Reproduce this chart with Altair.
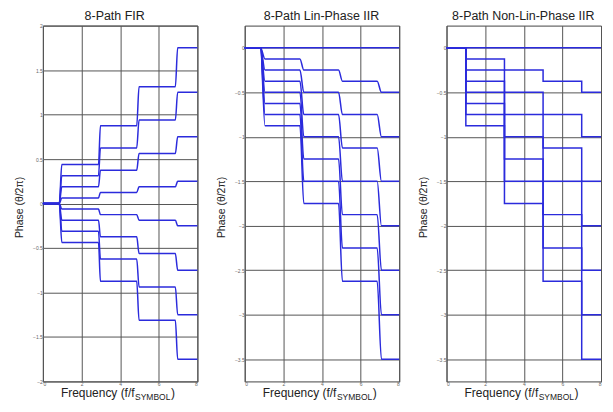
import altair as alt
import pandas as pd

# ---- data ----
x_max = 8
# FIR: smooth transitions just before the odd integers
fir_step_start = [0.85, 2.88, 4.86, 6.86]
fir_step_end = [0.98, 2.98, 4.98, 6.98]
fir_levels = [
    [0, 0.4375, 0.875, 1.3125, 1.75],
    [0, 0.3125, 0.625, 0.9375, 1.25],
    [0, 0.1875, 0.375, 0.5625, 0.75],
    [0, 0.0625, 0.125, 0.1875, 0.25],
    [0, -0.0625, -0.125, -0.1875, -0.25],
    [0, -0.1875, -0.375, -0.5625, -0.75],
    [0, -0.3125, -0.625, -0.9375, -1.25],
    [0, -0.4375, -0.875, -1.3125, -1.75],
]
# IIR (both versions share the levels)
iir_levels = [
    [0, 0, 0, 0, 0],
    [0, -0.125, -0.25, -0.375, -0.5],
    [0, -0.25, -0.5, -0.75, -1.0],
    [0, -0.375, -0.75, -1.125, -1.5],
    [0, -0.5, -1.0, -1.5, -2.0],
    [0, -0.625, -1.25, -1.875, -2.5],
    [0, -0.75, -1.5, -2.25, -3.0],
    [0, -0.875, -1.75, -2.625, -3.5],
]
lin_step_start = [0.82, 2.86, 4.86, 6.86]
lin_step_end = [1.05, 3.06, 5.06, 7.08]
nonlin_step_start = [1.0, 3.0, 5.0, 7.0]
nonlin_step_end = [1.0, 3.0, 5.0, 7.0]

x_ticks = [0, 2, 4, 6, 8]
fir_y_ticks = [-2, -1.5, -1, -0.5, 0, 0.5, 1, 1.5, 2]
iir_y_ticks = [-3.5, -3, -2.5, -2, -1.5, -1, -0.5, 0]
titles = ["8-Path FIR", "8-Path Lin-Phase IIR", "8-Path Non-Lin-Phase IIR"]
title_centers = [72, 77, 77]

LINE = "#2b2bdc"
FONT = "Liberation Sans"
H = 357
W = 155


def build(levels, starts, ends):
    rows = []
    for p, lv in enumerate(levels):
        pts = [(0, lv[0])]
        for i in range(4):
            pts.append((starts[i], lv[i]))
            pts.append((ends[i], lv[i + 1]))
        pts.append((x_max, lv[4]))
        for i, (x, y) in enumerate(pts):
            rows.append({"path": p, "i": i, "x": x, "y": y})
    return pd.DataFrame(rows)


def label(text, x, y, size, align="left"):
    return alt.Chart(pd.DataFrame({"t": [text]})).mark_text(
        align=align, baseline="alphabetic", fontSize=size, font=FONT, color="#222"
    ).encode(text="t:N", x=alt.value(x), y=alt.value(y))


def panel(df, title, tx, ydom, yticks, interp):
    lines = alt.Chart(df).mark_line(color=LINE, strokeWidth=1.5, interpolate=interp).encode(
        x=alt.X("x:Q", scale=alt.Scale(domain=[0, 8], nice=False),
                axis=alt.Axis(values=x_ticks, title=None, format="~g")),
        y=alt.Y("y:Q", scale=alt.Scale(domain=ydom, nice=False, zero=False),
                axis=alt.Axis(values=yticks, title="Phase (θ/2π)", titleX=-23, titleY=182,
                              titleBaseline="middle", titleAngle=270, format="~g")),
        detail="path:N",
        order="i:Q",
    )
    return alt.layer(
        lines,
        label(title, tx, -6, 12.5, "center"),
        label("Frequency (f/f", 92, H + 15.5, 12, "right"),
        label("SYMBOL", 92.5, H + 19, 8.5),
        label(")", 128.5, H + 15.5, 12),
    ).properties(width=W, height=H)


p1 = panel(build(fir_levels, fir_step_start, fir_step_end), titles[0], title_centers[0],
           [-2, 2], fir_y_ticks, "monotone")
p2 = panel(build(iir_levels, lin_step_start, lin_step_end), titles[1], title_centers[1],
           [-3.75, 0.25], iir_y_ticks, "monotone")
p3 = panel(build(iir_levels, nonlin_step_start, nonlin_step_end), titles[2], title_centers[2],
           [-3.75, 0.25], iir_y_ticks, "linear")

chart = alt.hconcat(p1, p2, p3, spacing=47.5, bounds="flush").properties(
    padding={"left": 6, "top": 0, "right": 0, "bottom": 0},
    background="white",
).configure_view(
    stroke="#444", strokeWidth=1
).configure_axis(
    domain=False, grid=True, gridColor="#555", gridWidth=1, gridOpacity=1,
    tickSize=0.5, tickColor="#888", labelFontSize=5, labelColor="#666", labelPadding=0,
    labelFont=FONT, titleFont=FONT, titleFontSize=10.5, titleFontWeight="normal", titleColor="#222",
)

chart.save("out.html", embed_options={"renderer": "svg", "actions": False})
